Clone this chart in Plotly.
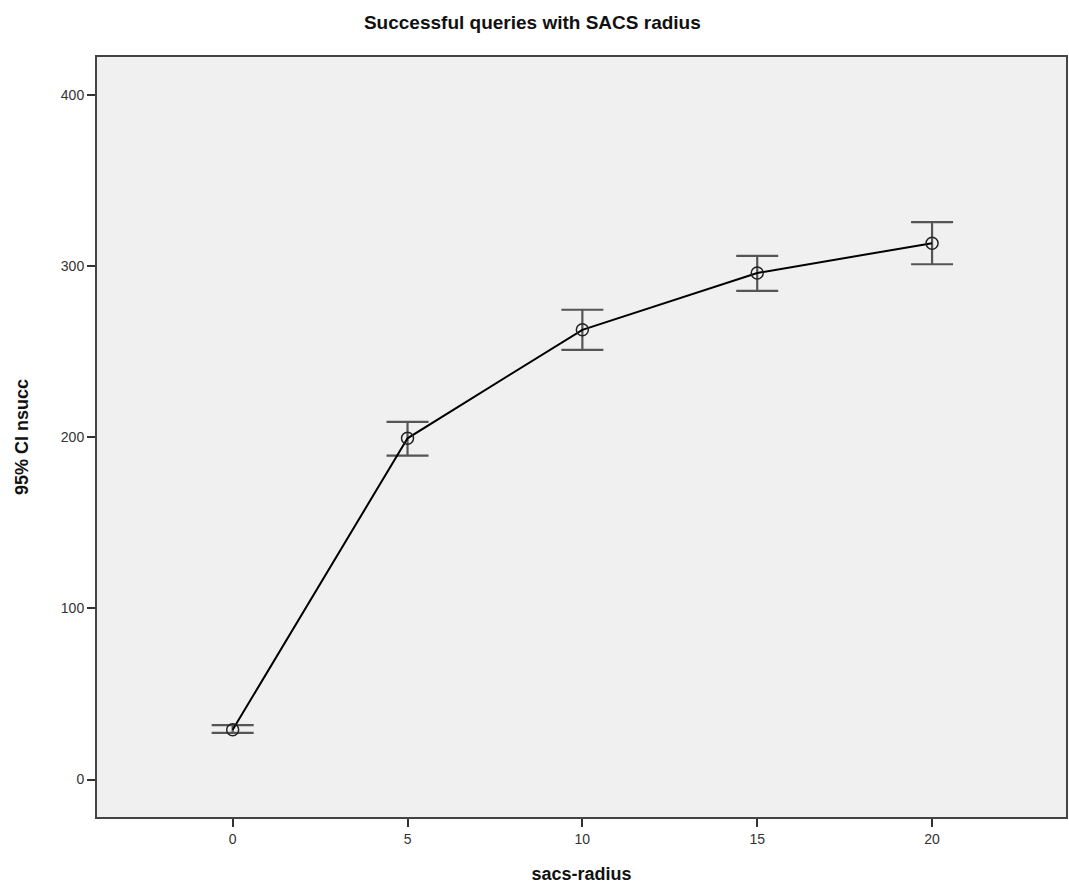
import plotly.graph_objects as go

radius = [0, 5, 10, 15, 20]
mean_nsucc = [29.1, 199.4, 262.8, 296.0, 313.4]
ci_upper = [31.8, 209.0, 274.5, 306.0, 325.7]
ci_lower = [27.3, 189.3, 251.1, 285.5, 301.1]

err_plus = [u - m for u, m in zip(ci_upper, mean_nsucc)]
err_minus = [m - l for m, l in zip(mean_nsucc, ci_lower)]

fig = go.Figure()
fig.add_trace(go.Scatter(
    x=radius, y=mean_nsucc, mode="lines+markers",
    line=dict(color="black", width=2),
    marker=dict(symbol="circle-open", size=12, color="#222", line=dict(width=1.5)),
    error_y=dict(type="data", symmetric=False, array=err_plus, arrayminus=err_minus,
                 color="#555", thickness=2.2, width=21),
    showlegend=False,
))

fig.update_layout(
    width=1069, height=896,
    margin=dict(l=97, r=1, t=57, b=79),
    paper_bgcolor="white", plot_bgcolor="#F0F0F0",
    font=dict(family="Liberation Sans, Arial, sans-serif", color="#222"),
    title=dict(text="<b>Successful queries with SACS radius</b>", x=0.498, xref="container",
               xanchor="center", y=0.975, yanchor="middle",
               font=dict(size=19, color="#111")),
)
fig.update_xaxes(
    range=[-3.88, 23.83], tickvals=radius, ticktext=[str(r) for r in radius],
    ticks="outside", ticklen=8, tickwidth=1.5, tickcolor="#333",
    showgrid=False, zeroline=False,
    showline=True, linecolor="#444", linewidth=2, mirror=True,
    tickfont=dict(size=14, color="#333"),
    title=dict(text="<b>sacs-radius</b>", font=dict(size=18, color="#111"), standoff=22),
)
fig.update_yaxes(
    range=[-21.9, 422.2], tickvals=[0, 100, 200, 300, 400],
    ticks="outside", ticklen=8, tickwidth=1.5, tickcolor="#333",
    showgrid=False, zeroline=False,
    showline=True, linecolor="#444", linewidth=2, mirror=True,
    tickfont=dict(size=14, color="#333"),
    title=dict(text="<b>95% CI nsucc</b>", font=dict(size=18, color="#111"), standoff=28),
)

fig.write_html("out.html", config={"displayModeBar": False},
               post_script="document.body.style.margin='0';document.body.style.overflow='hidden';")
